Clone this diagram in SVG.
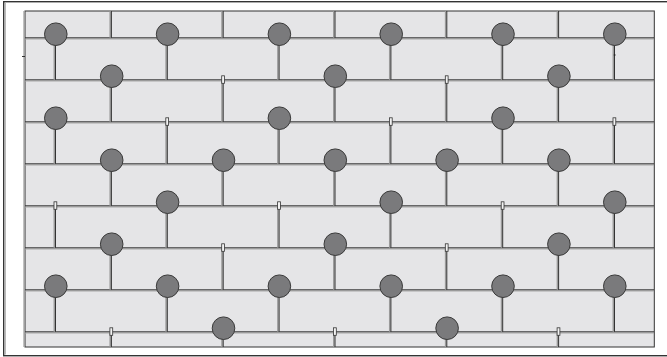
<svg xmlns="http://www.w3.org/2000/svg" width="667" height="357" viewBox="0 0 667 357">
<style>
.dk{fill:none;stroke:#333;stroke-width:1}
.gr{fill:none;stroke:#9a9a9a;stroke-width:1.5}
.hg{fill:none;stroke:#a8a8a8;stroke-width:1.2}
.pin circle{fill:#7a7a7c;stroke:#3a3a3a;stroke-width:1}
.notch{fill:#f2f2f2;stroke:#333;stroke-width:0.8}
</style>
<rect width="667" height="357" fill="#fff"/>
<g id="frame">
<rect x="3.7" y="1.7" width="700" height="354" fill="#fff" stroke="#333" stroke-width="1.4"/>
<path d="M5.2 3V354.5" class="hg"/>
<rect x="25" y="11" width="629.3" height="336" fill="#e5e5e7" stroke="#333" stroke-width="1"/>
<path d="M23.9 11V347" class="hg"/>
<path d="M22 56.5H25" class="dk"/>
</g>
<g id="connectors">
<path class="hg" d="M25 39H654M25 81H654M25 123H654M25 165H654M25 207H654M25 249H654M25 291H654M25 333H654"/>
<path class="dk" d="M25 37.8H654M25 79.8H654M25 121.8H654M25 163.8H654M25 205.8H654M25 247.8H654M25 289.8H654M25 331.8H654"/>
<path class="gr" d="
M110.2 11V37.8M222 11V37.8M333.8 11V37.8M445.6 11V37.8M557.4 11V37.8
M54.3 37.8V79.8M166.1 37.8V79.8M277.9 37.8V79.8M389.7 37.8V79.8M501.5 37.8V79.8M613.3 37.8V79.8
M110.2 79.8V121.8M222 79.8V121.8M333.8 79.8V121.8M445.6 79.8V121.8M557.4 79.8V121.8
M54.3 121.8V163.8M166.1 121.8V163.8M277.9 121.8V163.8M389.7 121.8V163.8M501.5 121.8V163.8M613.3 121.8V163.8
M110.2 163.8V205.8M222 163.8V205.8M333.8 163.8V205.8M445.6 163.8V205.8M557.4 163.8V205.8
M54.3 205.8V247.8M166.1 205.8V247.8M277.9 205.8V247.8M389.7 205.8V247.8M501.5 205.8V247.8M613.3 205.8V247.8
M110.2 247.8V289.8M222 247.8V289.8M333.8 247.8V289.8M445.6 247.8V289.8M557.4 247.8V289.8
M54.3 289.8V331.8M166.1 289.8V331.8M277.9 289.8V331.8M389.7 289.8V331.8M501.5 289.8V331.8M613.3 289.8V331.8
M110.2 331.8V347M222 331.8V347M333.8 331.8V347M445.6 331.8V347M557.4 331.8V347"/>
<path class="dk" d="
M111.4 11V37.8M223.2 11V37.8M335 11V37.8M446.8 11V37.8M558.6 11V37.8
M55.5 37.8V79.8M167.3 37.8V79.8M279.1 37.8V79.8M390.9 37.8V79.8M502.7 37.8V79.8M614.5 37.8V79.8
M111.4 79.8V121.8M223.2 79.8V121.8M335 79.8V121.8M446.8 79.8V121.8M558.6 79.8V121.8
M55.5 121.8V163.8M167.3 121.8V163.8M279.1 121.8V163.8M390.9 121.8V163.8M502.7 121.8V163.8M614.5 121.8V163.8
M111.4 163.8V205.8M223.2 163.8V205.8M335 163.8V205.8M446.8 163.8V205.8M558.6 163.8V205.8
M55.5 205.8V247.8M167.3 205.8V247.8M279.1 205.8V247.8M390.9 205.8V247.8M502.7 205.8V247.8M614.5 205.8V247.8
M111.4 247.8V289.8M223.2 247.8V289.8M335 247.8V289.8M446.8 247.8V289.8M558.6 247.8V289.8
M55.5 289.8V331.8M167.3 289.8V331.8M279.1 289.8V331.8M390.9 289.8V331.8M502.7 289.8V331.8M614.5 289.8V331.8
M111.4 331.8V347M223.2 331.8V347M335 331.8V347M446.8 331.8V347M558.6 331.8V347"/>
<path d="M613.8 55H615.5" stroke="#222" stroke-width="1.2"/>
<g id="notches">
<rect class="notch" x="221.7" y="75.8" width="2.8" height="7.5"/>
<rect class="notch" x="445.3" y="75.8" width="2.8" height="7.5"/>
<rect class="notch" x="165.8" y="117.8" width="2.8" height="7.5"/>
<rect class="notch" x="389.4" y="117.8" width="2.8" height="7.5"/>
<rect class="notch" x="613" y="117.8" width="2.8" height="7.5"/>
<rect class="notch" x="54" y="201.8" width="2.8" height="7.5"/>
<rect class="notch" x="277.6" y="201.8" width="2.8" height="7.5"/>
<rect class="notch" x="501.2" y="201.8" width="2.8" height="7.5"/>
<rect class="notch" x="221.7" y="243.8" width="2.8" height="7.5"/>
<rect class="notch" x="445.3" y="243.8" width="2.8" height="7.5"/>
<rect class="notch" x="109.9" y="327.8" width="2.8" height="7.5"/>
<rect class="notch" x="333.5" y="327.8" width="2.8" height="7.5"/>
<rect class="notch" x="557.1" y="327.8" width="2.8" height="7.5"/>
</g>
</g>
<g id="p1" class="pin"><circle cx="55.8" cy="34.2" r="11.3"/></g>
<g id="p2" class="pin"><circle cx="167.6" cy="34.2" r="11.3"/></g>
<g id="p3" class="pin"><circle cx="279.4" cy="34.2" r="11.3"/></g>
<g id="p4" class="pin"><circle cx="391.2" cy="34.2" r="11.3"/></g>
<g id="p5" class="pin"><circle cx="503" cy="34.2" r="11.3"/></g>
<g id="p6" class="pin"><circle cx="614.8" cy="34.2" r="11.3"/></g>
<g id="p7" class="pin"><circle cx="111.7" cy="76.2" r="11.3"/></g>
<g id="p8" class="pin"><circle cx="335.3" cy="76.2" r="11.3"/></g>
<g id="p9" class="pin"><circle cx="558.9" cy="76.2" r="11.3"/></g>
<g id="p10" class="pin"><circle cx="55.8" cy="118.2" r="11.3"/></g>
<g id="p11" class="pin"><circle cx="279.4" cy="118.2" r="11.3"/></g>
<g id="p12" class="pin"><circle cx="503" cy="118.2" r="11.3"/></g>
<g id="p13" class="pin"><circle cx="111.7" cy="160.2" r="11.3"/></g>
<g id="p14" class="pin"><circle cx="223.5" cy="160.2" r="11.3"/></g>
<g id="p15" class="pin"><circle cx="335.3" cy="160.2" r="11.3"/></g>
<g id="p16" class="pin"><circle cx="447.1" cy="160.2" r="11.3"/></g>
<g id="p17" class="pin"><circle cx="558.9" cy="160.2" r="11.3"/></g>
<g id="p18" class="pin"><circle cx="167.6" cy="202.2" r="11.3"/></g>
<g id="p19" class="pin"><circle cx="391.2" cy="202.2" r="11.3"/></g>
<g id="p20" class="pin"><circle cx="614.8" cy="202.2" r="11.3"/></g>
<g id="p21" class="pin"><circle cx="111.7" cy="244.2" r="11.3"/></g>
<g id="p22" class="pin"><circle cx="335.3" cy="244.2" r="11.3"/></g>
<g id="p23" class="pin"><circle cx="558.9" cy="244.2" r="11.3"/></g>
<g id="p24" class="pin"><circle cx="55.8" cy="286.2" r="11.3"/></g>
<g id="p25" class="pin"><circle cx="167.6" cy="286.2" r="11.3"/></g>
<g id="p26" class="pin"><circle cx="279.4" cy="286.2" r="11.3"/></g>
<g id="p27" class="pin"><circle cx="391.2" cy="286.2" r="11.3"/></g>
<g id="p28" class="pin"><circle cx="503" cy="286.2" r="11.3"/></g>
<g id="p29" class="pin"><circle cx="614.8" cy="286.2" r="11.3"/></g>
<g id="p30" class="pin"><circle cx="223.5" cy="328.2" r="11.3"/></g>
<g id="p31" class="pin"><circle cx="447.1" cy="328.2" r="11.3"/></g>
</svg>
